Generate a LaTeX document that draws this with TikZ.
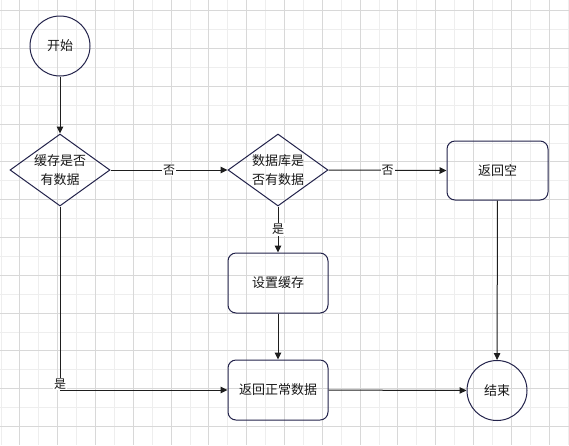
\documentclass[tikz,border=0pt]{standalone}
\usepackage{fontspec}
\setmainfont{Noto Sans CJK SC}
\usetikzlibrary{shapes.geometric,arrows.meta}
\definecolor{nodeline}{RGB}{35,35,75}
\definecolor{edgeline}{RGB}{30,30,30}
\definecolor{gridlight}{RGB}{238,238,238}
\definecolor{griddark}{RGB}{216,216,216}
\begin{document}
\begin{tikzpicture}[x=1pt,y=-1pt,line width=1pt,
    every node/.style={font=\fontsize{13}{19}\selectfont,text=black!90},
    term/.style={circle,draw=nodeline,minimum size=60pt,inner sep=0pt},
    decide/.style={diamond,draw=nodeline,aspect=1.39,minimum width=100pt,
      minimum height=72pt,inner sep=0pt,align=center},
    proc/.style={rectangle,rounded corners=8pt,draw=nodeline,
      minimum width=100pt,minimum height=60pt,align=center},
    flow/.style={draw=edgeline,-{Triangle[length=7pt,width=6.5pt]}},
    tag/.style={fill=white,inner sep=1pt,font=\fontsize{12}{14}\selectfont}]
  \fill[white] (0,0) rectangle (569,445);
  \useasboundingbox (0,0) rectangle (569,445);
  \begin{scope}[line width=1pt]
    \foreach \k in {0,...,15}
      \draw[gridlight] ({1+37.8*\k},0) -- ({1+37.8*\k},445);
    \foreach \k in {0,...,10}
      \draw[gridlight] (0,{29.6+37.8*\k}) -- (569,{29.6+37.8*\k});
    \foreach \k in {0,...,14}
      \draw[griddark] ({19.9+37.8*\k},0) -- ({19.9+37.8*\k},445);
    \foreach \k in {0,...,11}
      \draw[griddark] (0,{10.7+37.8*\k}) -- (569,{10.7+37.8*\k});
  \end{scope}
  \node[term] (start) at (60,46) {开始};
  \node[decide] (cache) at (60,170) {缓存是否\\有数据};
  \node[decide] (db) at (278,170) {数据库是\\否有数据};
  \node[proc,minimum width=101pt,minimum height=59pt] (empty) at (497.5,170.5) {返回空};
  \node[proc] (setcache) at (278,283) {设置缓存};
  \node[proc] (normal) at (278,390) {返回正常数据};
  \node[term] (stop) at (497,390.5) {结束};
  \draw[flow] (start) -- (cache);
  \draw[flow] (cache.east) -- node[tag] {否} (db.west);
  \draw[flow] (db.east) -- node[tag] {否} (empty.west);
  \draw[flow] (db.south) -- node[tag] {是} (setcache.north);
  \draw[flow] (cache.south) |- node[tag,pos=0.5,yshift=6pt] {是} (normal.west);
  \draw[flow] (setcache) -- (normal);
  \draw[flow] (empty) -- (stop);
  \draw[flow] (normal) -- (stop);
\end{tikzpicture}
\end{document}
